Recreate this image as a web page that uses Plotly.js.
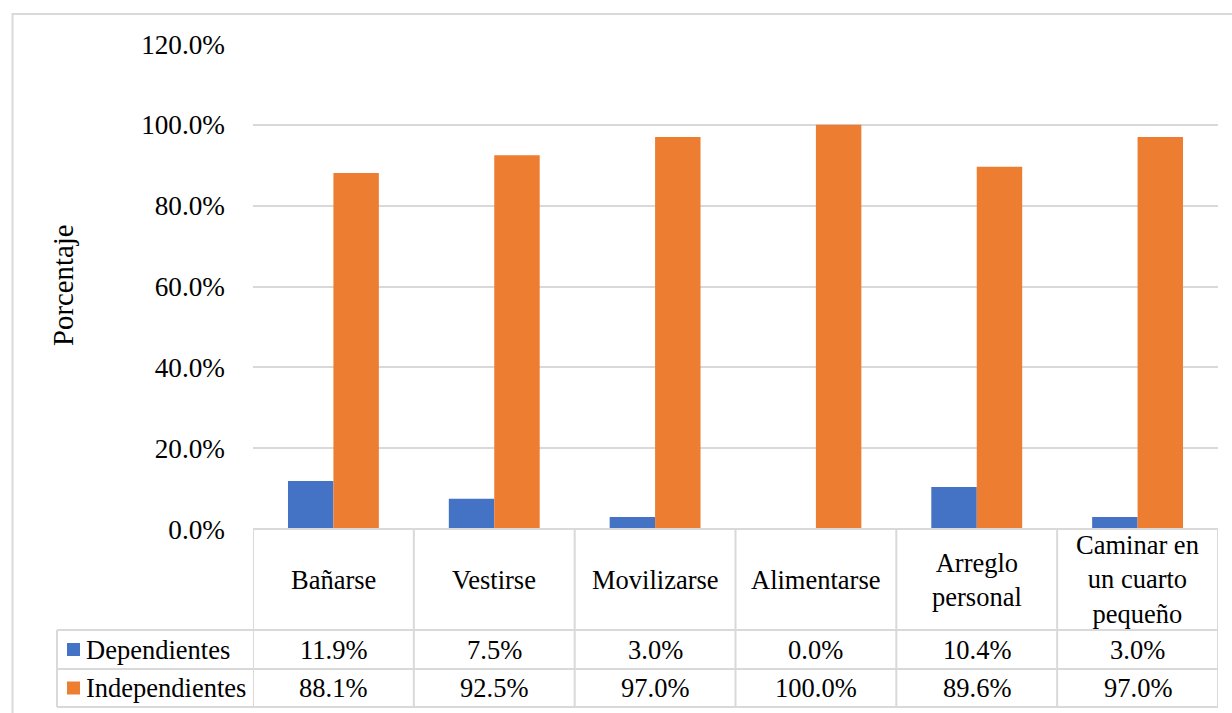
<!DOCTYPE html>
<html>
<head>
<meta charset="utf-8">
<script src="https://cdn.plot.ly/plotly-3.0.1.min.js"></script>
<style>
html,body{margin:0;padding:0;background:#fff;}
#chart{width:1232px;height:713px;}
</style>
</head>
<body>
<div id="chart"></div>
<script>
// ---- data ----
const categories = ["Bañarse", "Vestirse", "Movilizarse", "Alimentarse", "Arreglo personal", "Caminar en un cuarto pequeño"];
const categoryLabels = ["Bañarse", "Vestirse", "Movilizarse", "Alimentarse", "Arreglo<br>personal", "Caminar en<br>un cuarto<br>pequeño"];
const seriesNames = ["Dependientes", "Independientes"];
const dependientes = [11.9, 7.5, 3.0, 0.0, 10.4, 3.0];
const independientes = [88.1, 92.5, 97.0, 100.0, 89.6, 97.0];
const yTicks = [0, 20, 40, 60, 80, 100, 120];

// ---- layout geometry (pixels) ----
const W = 1232, H = 713;
const ML = 253, MR = 14, MT = 44, MB = 184;
const PW = W - ML - MR, PH = H - MT - MB;
const px = p => (p - ML) / PW;
const py = p => (H - MB - p) / PH;

const colors = ["#4472C4", "#ED7D31"];
const gridColor = "#D9D9D9";
const FONT = "'Liberation Serif', Tinos, 'Times New Roman', 'DejaVu Serif', serif";
const FS = 26.5;
const FS_TICK = 27.2;
const FS_TITLE = 28.8;

const xIdx = categories.map((_, i) => i);
const seriesData = [dependientes, independientes];

const traces = seriesData.map((vals, s) => ({
  type: "bar",
  name: seriesNames[s],
  x: xIdx,
  y: vals,
  marker: {color: colors[s], line: {width: 0}},
  hoverinfo: "skip"
}));

// Table geometry
const tTop = H - MB;
const rowCat = 630, row1 = 669, row2 = 707;
const tLeft = 57;
const lineStyle = {color: gridColor, width: 2};

const shapes = [];
shapes.push({type: "rect", xref: "paper", yref: "paper", x0: px(12.5), x1: px(1245), y0: py(14), y1: py(725), line: {color: gridColor, width: 2}, layer: "below"});
for (let i = 0; i <= categories.length; i++) {
  shapes.push({type: "line", xref: "x", yref: "paper", x0: i - 0.5, x1: i - 0.5, y0: py(tTop), y1: py(row2), line: lineStyle});
}
shapes.push({type: "line", xref: "paper", yref: "paper", x0: 0, x1: 1, y0: py(tTop), y1: py(tTop), line: lineStyle});
[rowCat, row1, row2].forEach(r => {
  shapes.push({type: "line", xref: "paper", yref: "paper", x0: px(tLeft), x1: 1, y0: py(r), y1: py(r), line: lineStyle});
});
shapes.push({type: "line", xref: "paper", yref: "paper", x0: px(tLeft), x1: px(tLeft), y0: py(rowCat), y1: py(row2), line: lineStyle});
const rowCenters = [(rowCat + row1) / 2, (row1 + row2) / 2];
rowCenters.forEach((c, s) => {
  shapes.push({type: "rect", xref: "paper", yref: "paper", x0: px(67), x1: px(80), y0: py(c - 6.5), y1: py(c + 6.5), fillcolor: colors[s], line: {width: 0}});
});

const annotations = [];
categoryLabels.forEach((lab, i) => {
  annotations.push({xref: "x", yref: "paper", x: i, y: py((tTop + rowCat) / 2), text: lab, showarrow: false, xanchor: "center", yanchor: "middle", font: {family: FONT, size: FS, color: "#000"}});
});
seriesData.forEach((vals, s) => {
  annotations.push({xref: "paper", yref: "paper", x: px(84), y: py(rowCenters[s]), text: seriesNames[s], showarrow: false, xanchor: "left", yanchor: "middle", font: {family: FONT, size: FS, color: "#000"}});
  vals.forEach((v, i) => {
    annotations.push({xref: "x", yref: "paper", x: i, y: py(rowCenters[s]), text: v.toFixed(1) + "%", showarrow: false, xanchor: "center", yanchor: "middle", font: {family: FONT, size: FS, color: "#000"}});
  });
});
annotations.push({xref: "paper", yref: "paper", x: px(63), y: py(285), text: "Porcentaje", textangle: -90, showarrow: false, xanchor: "center", yanchor: "middle", font: {family: FONT, size: FS_TITLE, color: "#000"}});

const layout = {
  width: W, height: H,
  margin: {l: ML, r: MR, t: MT, b: MB, pad: 0},
  paper_bgcolor: "#fff", plot_bgcolor: "#fff",
  barmode: "group", bargap: 0.435, bargroupgap: 0,
  showlegend: false,
  font: {family: FONT, size: FS, color: "#000"},
  xaxis: {range: [-0.5, categories.length - 0.5], showticklabels: false, showgrid: false, zeroline: false, showline: false, ticks: "", fixedrange: true},
  yaxis: {range: [0, 120], tickvals: yTicks, ticktext: yTicks.map(t => t.toFixed(1) + "%"), showgrid: true, gridcolor: gridColor, gridwidth: 2, zeroline: false, showline: false, ticks: "", ticklabelstandoff: 27, tickfont: {family: FONT, size: FS_TICK, color: "#000"}, fixedrange: true},
  shapes: shapes,
  annotations: annotations
};

Plotly.newPlot("chart", traces, layout, {displayModeBar: false, staticPlot: true});
</script>
</body>
</html>
